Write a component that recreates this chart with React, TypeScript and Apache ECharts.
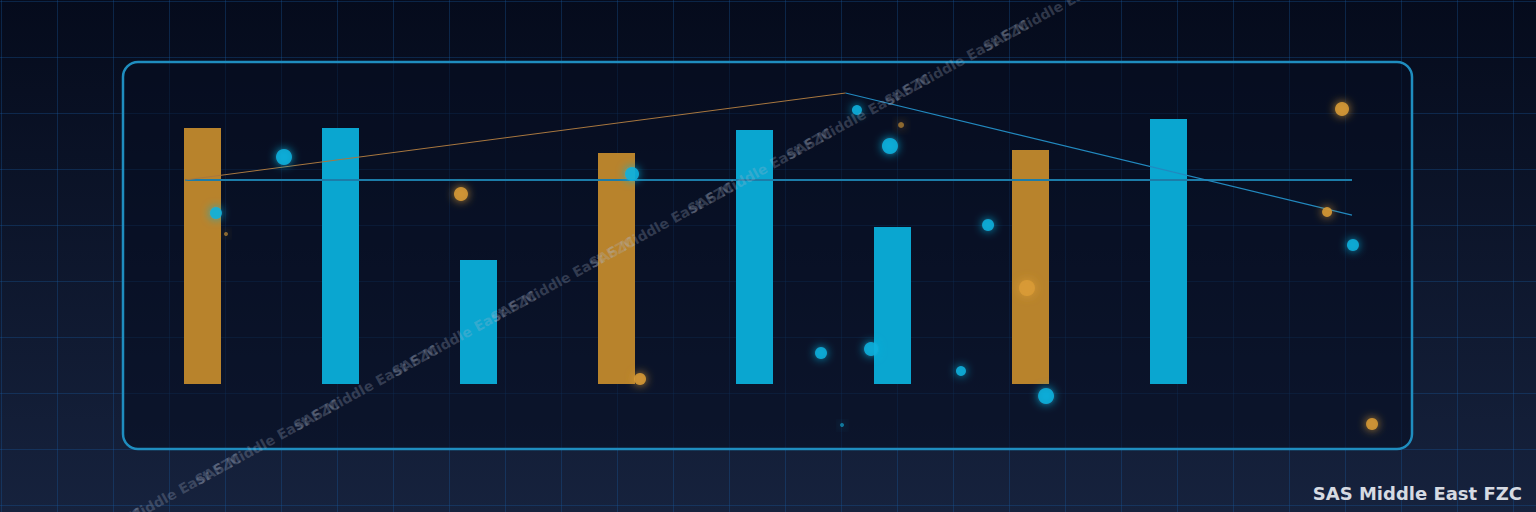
import React, { useEffect, useRef } from "react";
import * as echarts from "echarts";

// ---- data ----
const categories = ["A", "B", "C", "D", "E", "F", "G", "H"];
const barValues = [85.3, 85.3, 41.3, 77, 84.7, 52.3, 78, 88.3];
const barKinds = ["o", "c", "c", "o", "c", "c", "o", "c"];
const baselineValue = 68;
const trendX = [0, 56.6, 100];
const trendY = [68, 97, 56.3];
// particles: [x%, y%, radius, kind]
const particles: [number, number, number, string][] = [
  [12.49, 75.45, 8, "c"],
  [7.21, 60.98, 6, "c"],
  [7.99, 55.56, 2, "o"],
  [26.22, 65.89, 7, "o"],
  [39.49, 71.06, 7, "c"],
  [40.11, 18.09, 6, "o"],
  [56.94, 87.6, 5, "c"],
  [60.36, 83.72, 3, "o"],
  [59.5, 78.29, 8, "c"],
  [67.11, 57.88, 6, "c"],
  [70.13, 41.6, 8, "o"],
  [54.15, 24.81, 6, "c"],
  [58.03, 25.84, 7, "c"],
  [65.01, 20.16, 5, "c"],
  [55.78, 6.2, 2, "c"],
  [71.61, 13.7, 8, "c"],
  [94.57, 87.86, 7, "o"],
  [93.41, 61.24, 5, "o"],
  [95.42, 52.71, 6, "c"],
  [96.9, 6.46, 6, "o"],
];
const watermarkText = "SAS Middle East FZC";
const footerText = "SAS Middle East FZC";

const ORANGE = "#b8832c";
const CYAN = "#0aa6d0";
const DOT_ORANGE = "#d99b36";
const DOT_CYAN = "#12b2de";

export default function App() {
  const ref = useRef<HTMLDivElement>(null);
  useEffect(() => {
    if (!ref.current) return;
    const chart = echarts.init(ref.current, null, { renderer: "svg" });
    const W = 1536;
    const H = 512;

    const graphics: any[] = [];
    // background grid lines
    for (let x = 1; x < W; x += 56) {
      graphics.push({
        type: "line",
        z: 0,
        shape: { x1: x + 0.5, y1: 0, x2: x + 0.5, y2: H },
        style: { stroke: "rgba(25,90,160,0.33)", lineWidth: 1 },
        silent: true,
      });
    }
    for (let y = 1; y < H; y += 56) {
      graphics.push({
        type: "line",
        z: 0,
        shape: { x1: 0, y1: y + 0.5, x2: W, y2: y + 0.5 },
        style: { stroke: "rgba(25,90,160,0.33)", lineWidth: 1 },
        silent: true,
      });
    }
    // panel
    graphics.push({
      type: "rect",
      z: 1,
      shape: { x: 123, y: 62, width: 1289, height: 387, r: 15 },
      style: {
        fill: "rgba(6,13,32,0.55)",
        stroke: "#1f8dbf",
        lineWidth: 2.5,
      },
      silent: true,
    });
    // watermark
    const ang = (28.8 * Math.PI) / 180;
    const cs = Math.cos(ang);
    const sn = Math.sin(ang);
    for (let k = 10; k >= 0; k--) {
      const cx = 1005 - 98.5 * k;
      const cy = 36 + 54.2 * k;
      graphics.push({
        type: "text",
        z: 50,
        x: cx - 24 * cs,
        y: cy + 24 * sn,
        rotation: ang,
        style: {
          text: watermarkText,
          font: "bold 14px 'DejaVu Sans'",
          fill: "rgba(175,185,205,0.26)",
          textAlign: "left",
          textVerticalAlign: "middle",
        },
        silent: true,
      });
    }
    // footer
    graphics.push({
      type: "text",
      z: 60,
      right: 14,
      top: 484,
      style: {
        text: footerText,
        font: "bold 18px 'DejaVu Sans'",
        fill: "#d6dae2",
        shadowColor: "rgba(0,0,0,0.9)",
        shadowBlur: 3,
        shadowOffsetX: 1,
        shadowOffsetY: 1,
      },
      silent: true,
    });

    const gridV = { top: 84, bottom: 128 };
    const option: any = {
      animation: false,
      backgroundColor: {
        type: "linear",
        x: 0,
        y: 0,
        x2: 0,
        y2: 1,
        colorStops: [
          { offset: 0, color: "#050b1c" },
          { offset: 1, color: "#16223d" },
        ],
      },
      grid: [
        { left: 133.5, width: 1104, ...gridV },
        { left: 185, right: 184, ...gridV },
        { left: 123, width: 1289, top: 62, height: 387 },
      ],
      xAxis: [
        { type: "category", data: categories, gridIndex: 0, show: false, boundaryGap: true },
        { type: "value", min: 0, max: 100, gridIndex: 1, show: false },
        { type: "value", min: 0, max: 100, gridIndex: 2, show: false },
      ],
      yAxis: [
        { type: "value", min: 0, max: 100, gridIndex: 0, show: false },
        { type: "value", min: 0, max: 100, gridIndex: 1, show: false },
        { type: "value", min: 0, max: 100, gridIndex: 2, show: false },
      ],
      graphic: graphics,
      series: [
        {
          type: "bar",
          xAxisIndex: 0,
          yAxisIndex: 0,
          barWidth: 37,
          z: 5,
          data: barValues.map((v, i) => ({
            value: v,
            itemStyle: { color: barKinds[i] === "o" ? ORANGE : CYAN },
          })),
        },
        {
          type: "line",
          xAxisIndex: 1,
          yAxisIndex: 1,
          z: 6,
          symbol: "none",
          lineStyle: { color: "#1c7ca8", width: 2 },
          data: [
            [trendX[0], baselineValue],
            [trendX[2], baselineValue],
          ],
        },
        {
          type: "line",
          xAxisIndex: 1,
          yAxisIndex: 1,
          z: 6,
          symbol: "none",
          lineStyle: { color: "#a8773f", width: 1 },
          data: [
            [trendX[0], trendY[0]],
            [trendX[1], trendY[1]],
          ],
        },
        {
          type: "line",
          xAxisIndex: 1,
          yAxisIndex: 1,
          z: 6,
          symbol: "none",
          lineStyle: { color: "#2289bf", width: 1.2 },
          data: [
            [trendX[1], trendY[1]],
            [trendX[2], trendY[2]],
          ],
        },
        {
          type: "scatter",
          xAxisIndex: 2,
          yAxisIndex: 2,
          z: 7,
          data: particles.map((p) => {
            const c = p[3] === "o" ? DOT_ORANGE : DOT_CYAN;
            return {
              value: [p[0], p[1]],
              symbolSize: p[2] * 2,
              itemStyle: {
                color: c,
                opacity: p[2] <= 3 ? 0.6 : 0.88,
                shadowBlur: 10,
                shadowColor: c,
              },
            };
          }),
        },
      ],
    };
    chart.setOption(option);
    return () => chart.dispose();
  }, []);
  return (
    <div
      ref={ref}
      style={{ position: "fixed", left: 0, top: 0, width: 1536, height: 512 }}
    />
  );
}
